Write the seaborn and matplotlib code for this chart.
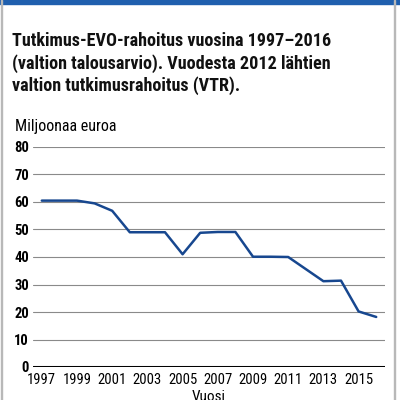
import matplotlib
matplotlib.use('Agg')
import matplotlib.pyplot as plt
import pandas as pd
import seaborn as sns
from matplotlib import font_manager
from matplotlib.patches import Rectangle


# Data
years = list(range(1997, 2017))
funding = [60.5, 60.5, 60.5, 59.5, 56.8, 49.0, 49.0, 49.0, 41.0, 48.8,
           49.1, 49.1, 40.1, 40.1, 40.0, 35.6, 31.2, 31.4, 20.2, 18.2]
year_ticks = list(range(1997, 2016, 2))
value_ticks = list(range(0, 81, 10))

title_lines = ['Tutkimus-EVO-rahoitus vuosina 1997\u20132016',
               '(valtion talousarvio). Vuodesta 2012 l\u00e4htien',
               'valtion tutkimusrahoitus (VTR).']
unit_label = 'Miljoonaa euroa'
x_label = 'Vuosi'

df = pd.DataFrame({'year': years, 'value': funding})

sns.set_theme(style='white')
installed = {f.name for f in font_manager.fontManager.ttflist}
families = [f for f in ['Liberation Sans Narrow', 'Roboto Condensed', 'Liberation Sans']
            if f in installed] + ['DejaVu Sans']
plt.rcParams['font.family'] = families
plt.rcParams['text.color'] = 'black'

fig = plt.figure(figsize=(4, 4), dpi=100)
ax = fig.add_axes([33 / 400, 1 - 367 / 400, 352 / 400, 220 / 400])

# frame of the graphic: blue band on top, thin grey sides
fig.patches.append(Rectangle((0, 1 - 4 / 400), 1, 4 / 400, transform=fig.transFigure,
                             color='#1f5fae', zorder=0))
fig.patches.append(Rectangle((1 / 400, 0), 1.2 / 400, 1, transform=fig.transFigure,
                             color='#b8b8b8', zorder=0))
fig.patches.append(Rectangle((393.5 / 400, 0), 1.2 / 400, 1, transform=fig.transFigure,
                             color='#b8b8b8', zorder=0))

for v in value_ticks[1:]:
    ax.axhline(v, color='#8a8a8a', lw=0.8, zorder=1)
ax.axhline(0, color='black', lw=2.2, zorder=3)

sns.lineplot(data=df, x='year', y='value', ax=ax, color='#17478f', lw=1.8, zorder=4)

ax.set_xlim(1996.5, 2016.5)
ax.set_ylim(0, 80)
ax.set_xticks(year_ticks)
ax.set_yticks(value_ticks)
ax.tick_params(axis='both', length=0, labelsize=10.5, colors='black')
ax.tick_params(axis='y', pad=3)
ax.tick_params(axis='x', pad=4)
for lbl in ax.get_yticklabels():
    lbl.set_fontweight('bold')
ax.set_ylabel('')
ax.set_xlabel(x_label, fontsize=11, labelpad=2.5, color='black')
for s in ax.spines.values():
    s.set_visible(False)
ax.set_facecolor('none')

# title, shrunk so that its first line is as wide as in the reference
base = [46.5, 68.5, 90.5]
texts = [fig.text(11.5 / 400, 1 - b / 400, line, fontsize=13.5, fontweight='bold',
                  va='baseline', ha='left', color='#111111')
         for line, b in zip(title_lines, base)]
renderer = fig.canvas.get_renderer()
w = texts[0].get_window_extent(renderer).width
size = 13.5 * 321 / w
for t in texts:
    t.set_fontsize(size)

fig.text(15 / 400, 1 - 131.5 / 400, unit_label, fontsize=11.5, va='baseline', ha='left')

fig.savefig('out.png', dpi=100)
